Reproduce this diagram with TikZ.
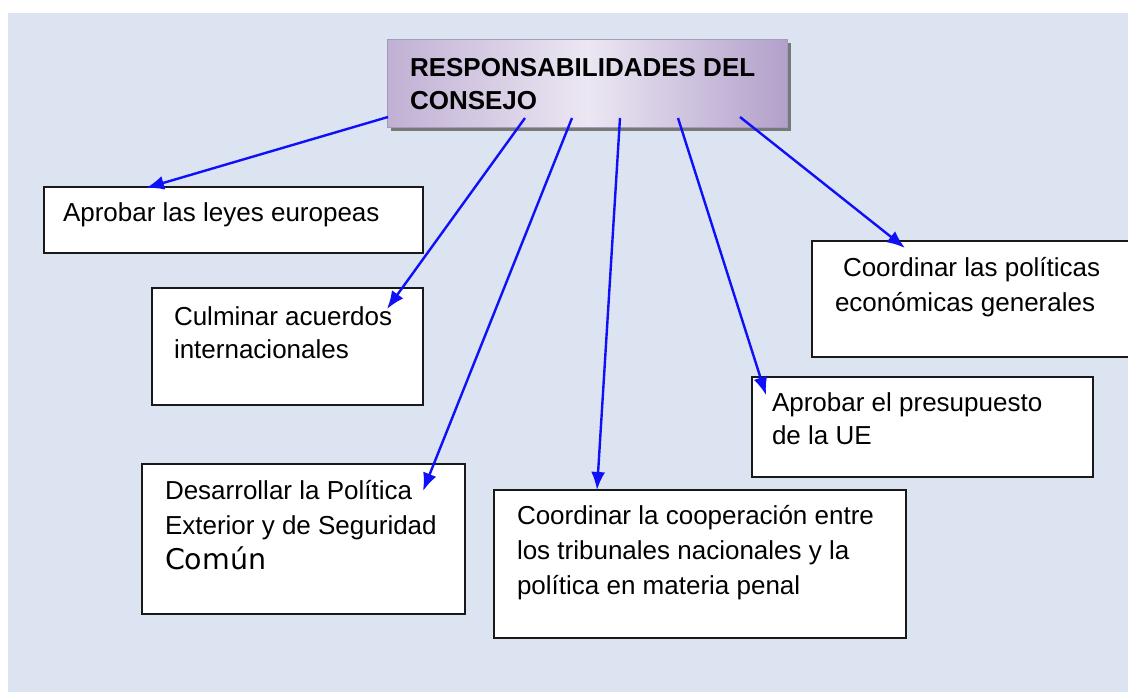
\documentclass[tikz,border=0pt]{standalone}
\usepackage{fontspec}
\setmainfont{Liberation Sans}
\newfontfamily\vfont{DejaVu Sans}
\usetikzlibrary{arrows.meta}
\definecolor{bgblue}{RGB}{219,228,240}
\definecolor{connblue}{RGB}{15,15,250}
\definecolor{tl}{RGB}{192,176,212}
\definecolor{tm}{RGB}{236,231,243}
\definecolor{tr}{RGB}{178,160,202}
\definecolor{tborder}{RGB}{165,155,185}
\newcommand{\ml}[1]{\begin{tabular}[t]{@{}l@{}}#1\end{tabular}}
\newcommand{\fsz}[1]{\fontsize{26}{#1}\selectfont}
\tikzset{
  box/.style={draw=black!90, line width=1.6pt, fill=white, anchor=north west,
    inner sep=0pt, outer sep=0pt},
  txt/.style={anchor=base west, inner sep=0pt, outer sep=0pt, text=black},
  connector/.style={draw=connblue, line width=2.4pt, -{Latex[length=18pt,width=14pt]}},
}
\begin{document}
\begin{tikzpicture}[x=1pt,y=-1pt]
\clip (0,0) rectangle (1128,692);
\fill[white] (0,0) rectangle (1128,692);
\fill[bgblue] (8,13) rectangle (1128,692);

% title
\fill[black!60, opacity=.85] (391,43) rectangle (791,131);
\node[draw=tborder, line width=.8pt, anchor=north west, inner sep=0pt,
  minimum width=400pt, minimum height=88pt,
  left color=tl, right color=tr, middle color=tm] (title) at (387,39) {};
\node[txt, font=\bfseries\fsz{33}] (ttext) at (410,77) {\ml{RESPONSABILIDADES DEL\\CONSEJO}};

% boxes
\node[box, minimum width=379pt, minimum height=66pt] (bA) at (44,187) {};
\node[box, minimum width=271pt, minimum height=117pt] (bB) at (152,288) {};
\node[box, minimum width=323pt, minimum height=150pt] (bC) at (142,464) {};
\node[box, minimum width=412pt, minimum height=148pt] (bD) at (494,490) {};
\node[box, minimum width=341pt, minimum height=100pt] (bE) at (752,377) {};
\node[box, minimum width=340pt, minimum height=116pt] (bF) at (812,241) {};

% texts
\node[txt, font=\fsz{33}] (tA) at (63,222) {Aprobar las leyes europeas};
\node[txt, font=\fsz{33}] (tB) at (174,326) {\ml{Culminar acuerdos\\internacionales}};
\node[txt, font=\fsz{35}] (tC) at (165,500) {\ml{Desarrollar la Política\\Exterior y de Seguridad\\{\vfont\fontsize{28.5}{35}\selectfont Común}}};
\node[txt, font=\fsz{35}] (tD) at (517,525) {\ml{Coordinar la cooperación entre\\los tribunales nacionales y la\\política en materia penal}};
\node[txt, font=\fsz{33}] (tE) at (772,412) {\ml{Aprobar el presupuesto\\de la UE}};
\node[txt, font=\fsz{35}] (tF) at (835,277) {\ml{\hspace{8pt}Coordinar las políticas\\económicas generales}};

% connector endpoints
\coordinate (s1) at (388,117);
\coordinate (s2) at (525,118);
\coordinate (s3) at (572,118);
\coordinate (s4) at (620,118);
\coordinate (s5) at (678,118);
\coordinate (s6) at (740,117);
\coordinate (e1) at (146,188);
\coordinate (e2) at (387,309);
\coordinate (e3) at (423,491);
\coordinate (e4) at (597,490);
\coordinate (e5) at (766,395);
\coordinate (e6) at (905,248);

\draw[connector] (s1) -- (e1);
\draw[connector] (s2) -- (e2);
\draw[connector] (s3) -- (e3);
\draw[connector] (s4) -- (e4);
\draw[connector] (s5) -- (e5);
\draw[connector] (s6) -- (e6);
\end{tikzpicture}
\end{document}
